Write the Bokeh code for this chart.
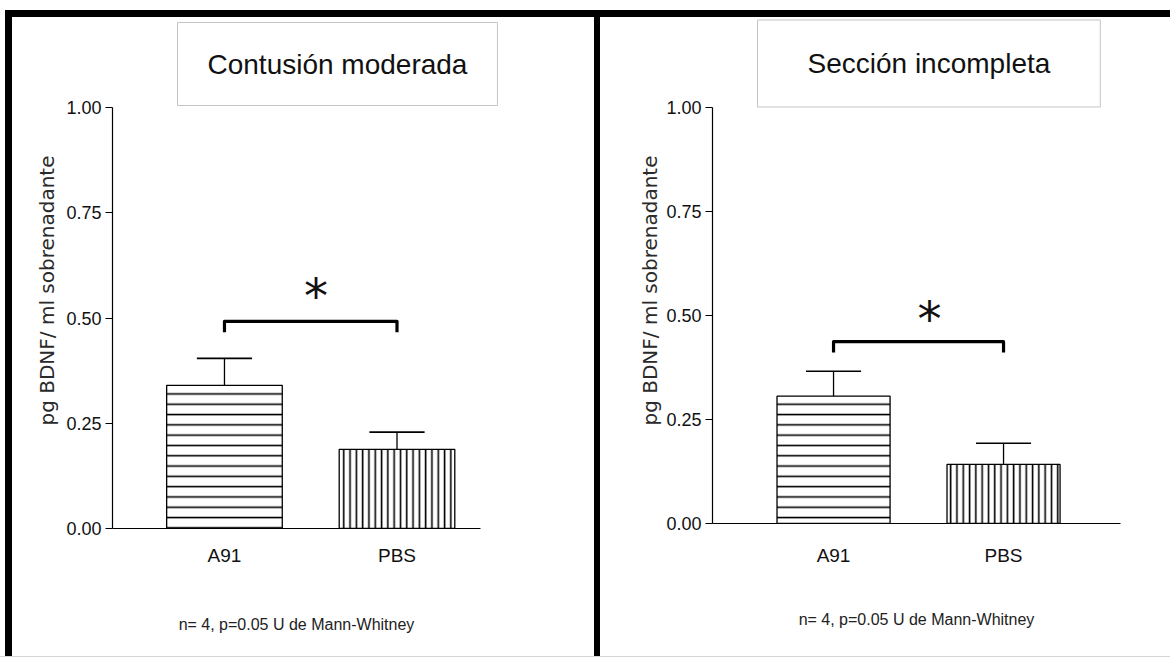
from bokeh.plotting import figure
from bokeh.layouts import row, column
from bokeh.models import (Range1d, FixedTicker, NumeralTickFormatter, ColumnDataSource,
                          Title, Spacer)
from bokeh.embed import file_html
from bokeh.resources import INLINE
from bokeh.core.properties import value

# ---------------- data ----------------
groups = ["A91", "PBS"]
group_x = [1, 2]
titles = ["Contusión moderada", "Sección incompleta"]
means_contusion = [0.340, 0.188]
sem_contusion = [0.064, 0.041]
means_seccion = [0.306, 0.142]
sem_seccion = [0.060, 0.051]
y_ticks = [0.0, 0.25, 0.5, 0.75, 1.0]
y_label = "pg BDNF/ ml sobrenadante"
note_text = "n= 4, p=0.05 U de Mann-Whitney"
sig_mark = "*"
hatches = ["horizontal_line", "vertical_line"]

SANS = "Liberation Sans"


def make_panel(title, means, sems, cfg):
    p = figure(width=cfg["w"], height=cfg["h"],
               min_border_left=cfg["bl"], min_border_right=cfg["br"],
               min_border_top=cfg["bt"], min_border_bottom=cfg["bb"],
               x_range=Range1d(cfg["x0"], cfg["x1"]), y_range=Range1d(0, 1),
               output_backend="svg", toolbar_location=None)
    p.outline_line_color = None
    p.grid.visible = False
    p.background_fill_color = "white"
    p.border_fill_color = "white"

    # axes
    xa = p.xaxis[0]
    xa.ticker = FixedTicker(ticks=group_x)
    xa.major_label_overrides = {g: n for g, n in zip(group_x, groups)}
    xa.major_tick_line_color = None
    xa.minor_tick_line_color = None
    xa.major_tick_out = 0
    xa.major_label_standoff = cfg["xl_stand"]
    xa.axis_line_color = "black"
    xa.axis_line_width = 1.2
    xa.major_label_text_font = SANS
    xa.major_label_text_font_size = "19px"
    xa.major_label_text_color = "#111111"
    # statistics note under the categories
    xa.axis_label = note_text
    xa.axis_label_standoff = cfg["n_stand"]
    xa.axis_label_text_font = SANS
    xa.axis_label_text_font_size = "16px"
    xa.axis_label_text_font_style = "normal"
    xa.axis_label_text_color = "#222222"

    ya = p.yaxis[0]
    ya.ticker = FixedTicker(ticks=y_ticks)
    ya.formatter = NumeralTickFormatter(format="0.00")
    ya.minor_tick_line_color = None
    ya.major_tick_in = 0
    ya.major_tick_out = 7
    ya.major_tick_line_color = "black"
    ya.major_tick_line_width = 1.2
    ya.axis_line_color = "black"
    ya.axis_line_width = 1.2
    ya.major_label_standoff = 4
    ya.major_label_text_font = SANS
    ya.major_label_text_font_size = "18px"
    ya.major_label_text_color = "#111111"

    # bars
    src = ColumnDataSource(dict(x=group_x, top=means, hatch=hatches,
                                scale=[cfg["hs_h"], cfg["hs_v"]]))
    p.vbar(x="x", top="top", width=cfg["bw"], bottom=0, source=src,
           fill_color="white", line_color="black", line_width=1.3,
           hatch_pattern="hatch", hatch_scale="scale", hatch_weight=1.6,
           hatch_color="black")

    # error bars (upper only)
    tops = [m + s for m, s in zip(means, sems)]
    p.segment(x0=group_x, x1=group_x, y0=means, y1=tops,
              line_color="black", line_width=1.3)
    cw = cfg["cap"] / 2
    p.segment(x0=[x - cw for x in group_x], x1=[x + cw for x in group_x],
              y0=tops, y1=tops, line_color="black", line_width=1.6)

    # significance bracket
    by = cfg["brk"]
    p.line(x=[group_x[0], group_x[0], group_x[1], group_x[1]],
           y=[by - 0.026, by, by, by - 0.026],
           line_color="black", line_width=3.2, line_join="round")
    p.text(x=[cfg["sx"]], y=[cfg["sy"]], text=[sig_mark],
           text_font=value("DejaVu Sans"), text_font_size="48px",
           text_align="center", text_baseline="alphabetic", y_offset=cfg["soff"],
           text_color="#111111")

    # boxed title above
    p.add_layout(Title(text=title, align="left", offset=cfg["t_off"],
                       standoff=cfg["t_stand"], text_font=SANS,
                       text_font_size="28px", text_font_style="normal",
                       text_color="#111111", background_fill_color="white",
                       border_line_color="#c4c4c4", border_line_width=1,
                       padding=cfg["t_pad"]), "above")

    # y axis label (as left title)
    p.add_layout(Title(text=y_label, align="left", offset=cfg["y_off"],
                       standoff=cfg["y_stand"], text_font="DejaVu Sans",
                       text_font_size="20px", text_font_style="normal",
                       text_color="#2a2a2a"), "left")
    return p


H = 639
cfg_left = dict(w=582, h=H, bl=100, br=114, bt=90, bb=128,
                x0=0.351, x1=2.484, bw=0.67, cap=0.32, hs_h=10.3, hs_v=6.3,
                brk=0.492, sx=1.53, sy=0.57, soff=7, xl_stand=16,
                t_off=65, t_stand=4, t_pad=(30, 26),
                y_off=103, y_stand=9, n_stand=47)

cfg_right = dict(w=570, h=H, bl=112, br=50, bt=90, bb=133,
                 x0=0.288, x1=2.688, bw=0.665, cap=0.324, hs_h=10.3, hs_v=6.3,
                 brk=0.437, sx=1.565, sy=0.508, soff=7, xl_stand=21,
                 t_off=45, t_stand=1, t_pad=(50, 28),
                 y_off=98, y_stand=3, n_stand=42)

p1 = make_panel(titles[0], means_contusion, sem_contusion, cfg_left)
p2 = make_panel(titles[1], means_seccion, sem_seccion, cfg_right)

BLACK = {"background-color": "black"}
top_gap = Spacer(width=1170, height=10)
top_bar = row(Spacer(width=5, height=7), Spacer(width=1165, height=7, styles=BLACK))
body = row(Spacer(width=5, height=H),
           Spacer(width=7, height=H, styles=BLACK),
           column(p1),
           Spacer(width=6, height=H, styles=BLACK),
           column(p2))
bottom_line = Spacer(width=1170, height=1, styles={"background-color": "#d4d4d4"})
layout = column(top_gap, top_bar, body, bottom_line)

open("out.html", "w").write(file_html(layout, INLINE))
